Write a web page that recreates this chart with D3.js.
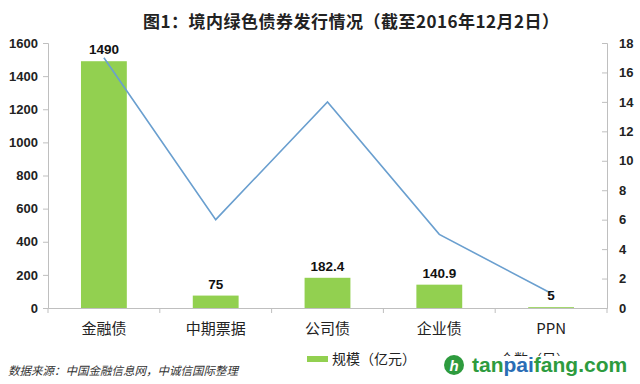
<!DOCTYPE html>
<html><head><meta charset="utf-8">
<script src="https://cdn.jsdelivr.net/npm/d3@7"></script>
<style>body{margin:0;background:#fff}svg{display:block}</style>
</head><body>
<svg id="c" width="640" height="384"></svg>
<script>
const categories = ["金融债","中期票据","公司债","企业债","PPN"];
const scaleValues = [1490, 75, 182.4, 140.9, 5];
const scaleLabels = ["1490","75","182.4","140.9","5"];
const countValues = [17, 6, 14, 5, 1];
const leftTicks = [0,200,400,600,800,1000,1200,1400,1600];
const rightTicks = [0,2,4,6,8,10,12,14,16,18];
const title = "图1：境内绿色债券发行情况（截至2016年12月2日）";
const source = "数据来源：中国金融信息网，中诚信国际整理";
const legendBar = "规模（亿元）";
const legendLine = "个数（只）";

const svg = d3.select("#c");
const L = 48, R = 607, T = 43, B = 308;
const x = d3.scaleBand().domain(categories).range([L, R]).padding(0);
const yL = d3.scaleLinear().domain([0,1600]).range([B, T]);
const yR = d3.scaleLinear().domain([0,18]).range([B, T]);
const axisColor = "#bfbfbf";
const green = "#92d050", blue = "#6a9fcf";

// title
svg.append("text").attr("x", 351).attr("y", 28).attr("text-anchor","middle")
  .attr("font-family","Noto Sans CJK SC").attr("font-weight","bold").attr("font-size",17)
  .attr("textLength",416).attr("lengthAdjust","spacing")
  .attr("fill","#222").text(title);

// bars
const bw = x.bandwidth()*0.41;
svg.selectAll("rect.bar").data(categories).enter().append("rect")
  .attr("x", d => x(d) + x.bandwidth()/2 - bw/2)
  .attr("y", (d,i) => yL(scaleValues[i]))
  .attr("width", bw)
  .attr("height", (d,i) => B - yL(scaleValues[i]))
  .attr("fill", green);

// left axis
const gl = svg.append("g").attr("transform",`translate(${L},0)`)
  .call(d3.axisLeft(yL).tickValues(leftTicks).tickSize(5).tickPadding(5).tickFormat(d3.format("d")));
// right axis
const gr = svg.append("g").attr("transform",`translate(${R},0)`)
  .call(d3.axisRight(yR).tickValues(rightTicks).tickSize(-5).tickPadding(12).tickFormat(d3.format("d")));
// bottom axis
const gb = svg.append("g").attr("transform",`translate(0,${B})`)
  .call(d3.axisBottom(x).tickSize(0).tickPadding(12));
[gl, gr].forEach(g => {
  g.select(".domain").attr("stroke", axisColor);
  g.selectAll(".tick line").attr("stroke", axisColor);
  g.selectAll("text").attr("font-family","Liberation Sans, Arial").attr("font-weight","bold")
    .attr("font-size",13).attr("fill","#222");
});
gb.select(".domain").attr("stroke", axisColor);
gb.selectAll(".tick text").attr("font-family","Noto Sans CJK SC").attr("font-size",15).attr("fill","#222")
  .attr("dy","0.9em");
// category boundary ticks
svg.append("g").selectAll("line").data(d3.range(categories.length+1)).enter().append("line")
  .attr("x1", i => L + i*x.step()).attr("x2", i => L + i*x.step())
  .attr("y1", B).attr("y2", B+5).attr("stroke", axisColor);

// line
const line = d3.line().x((d,i) => x(categories[i]) + x.bandwidth()/2).y(d => yR(d));
svg.append("path").datum(countValues).attr("d", line).attr("fill","none")
  .attr("stroke", blue).attr("stroke-width", 1.6);

// value labels
svg.selectAll("text.val").data(categories).enter().append("text")
  .attr("x", d => x(d) + x.bandwidth()/2)
  .attr("y", (d,i) => yL(scaleValues[i]) - 7)
  .attr("text-anchor","middle").attr("font-family","Liberation Sans, Arial")
  .attr("font-weight","bold").attr("font-size",13.5).attr("fill","#111")
  .text((d,i) => scaleLabels[i]);

// legend
svg.append("rect").attr("x",307).attr("y",356).attr("width",21).attr("height",6).attr("fill",green);
svg.append("text").attr("x",332).attr("y",364).attr("font-family","Noto Sans CJK SC")
  .attr("font-size",14).attr("fill","#222").text(legendBar);
svg.append("line").attr("x1",470).attr("x2",495).attr("y1",359).attr("y2",359).attr("stroke",blue).attr("stroke-width",2);
svg.append("text").attr("x",500).attr("y",364).attr("font-family","Noto Sans CJK SC")
  .attr("font-size",14).attr("fill","#222").text(legendLine);

// watermark cover (the reference's watermark hides most of the second legend entry)
svg.append("rect").attr("x",440).attr("y",356).attr("width",200).attr("height",24).attr("fill","#fff");
const wm = svg.append("g");
wm.append("circle").attr("cx",454).attr("cy",365).attr("r",10).attr("fill","#2e9b3e");
wm.append("text").attr("x",454).attr("y",371).attr("text-anchor","middle").attr("font-family","Liberation Sans")
  .attr("font-weight","bold").attr("font-style","italic").attr("font-size",15).attr("fill","#fff").text("h");
const wt = wm.append("text").attr("x",472).attr("y",372).attr("font-family","Liberation Sans, Arial")
  .attr("font-weight","bold").attr("font-size",21);
wt.append("tspan").attr("fill","#2e9b3e").text("tan");
wt.append("tspan").attr("fill","#2a6db5").text("pai");
wt.append("tspan").attr("fill","#2e9b3e").text("fang.com");

// source
svg.append("text").attr("x",8).attr("y",375).attr("font-family","Noto Sans CJK SC")
  .attr("font-style","italic").attr("font-size",11.5).attr("fill","#333").text(source);
</script>
</body></html>
